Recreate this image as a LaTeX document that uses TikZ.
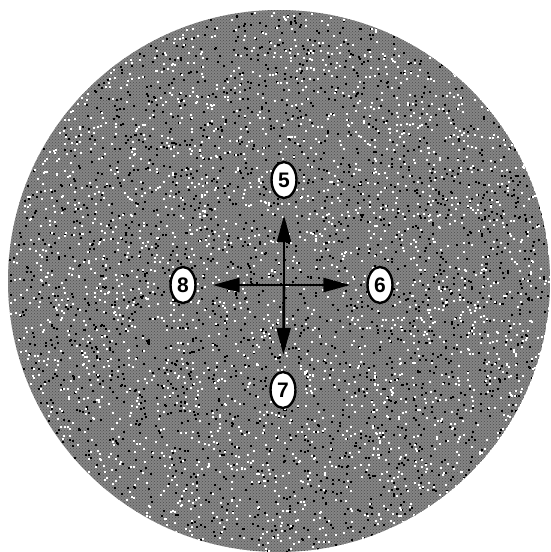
\documentclass[tikz,border=0pt]{standalone}
\usepackage{fontspec}
\setmainfont{Liberation Sans}
\usetikzlibrary{arrows.meta,shapes.geometric,patterns}
\begin{document}
\begin{tikzpicture}[x=1pt,y=-1pt,
  lbl/.style={ellipse,draw=black,line width=2.4pt,fill=white,inner sep=0pt,
    minimum width=25pt,minimum height=36pt,font=\bfseries\fontsize{21}{21}\selectfont},
  arr/.style={line width=2.6pt,-{Triangle[length=27pt,width=14pt]},shorten >=16pt}]
\useasboundingbox (0,0) rectangle (550,552);
\fill[white] (0,0) rectangle (550,552);
\begin{scope}
\clip (279,281) circle (271);
\fill[black!48] (279,281) circle (271);
\fill[pattern=crosshatch dots, pattern color=black!70] (279,281) circle (271);
\pgfmathsetseed{7}
\foreach \i in {1,...,2500}{
  \pgfmathsetmacro\rr{271*sqrt(rnd)}
  \pgfmathsetmacro\aa{360*rnd}
  \fill[black] (279,281) ++(\aa:\rr) rectangle ++(2,2);
}
\foreach \i in {1,...,2500}{
  \pgfmathsetmacro\rr{271*sqrt(rnd)}
  \pgfmathsetmacro\aa{360*rnd}
  \fill[white] (279,281) ++(\aa:\rr) rectangle ++(2,2);
}
\end{scope}
\node[lbl] (n5) at (284,180) {5};
\node[lbl] (n6) at (380,285) {6};
\node[lbl] (n7) at (283,390) {7};
\node[lbl] (n8) at (183,285) {8};
\coordinate (c) at (284,285);
\draw[arr] (c) -- (n5);
\draw[arr] (c) -- (n6);
\draw[arr] (c) -- (n7);
\draw[arr] (c) -- (n8);
\end{tikzpicture}
\end{document}
